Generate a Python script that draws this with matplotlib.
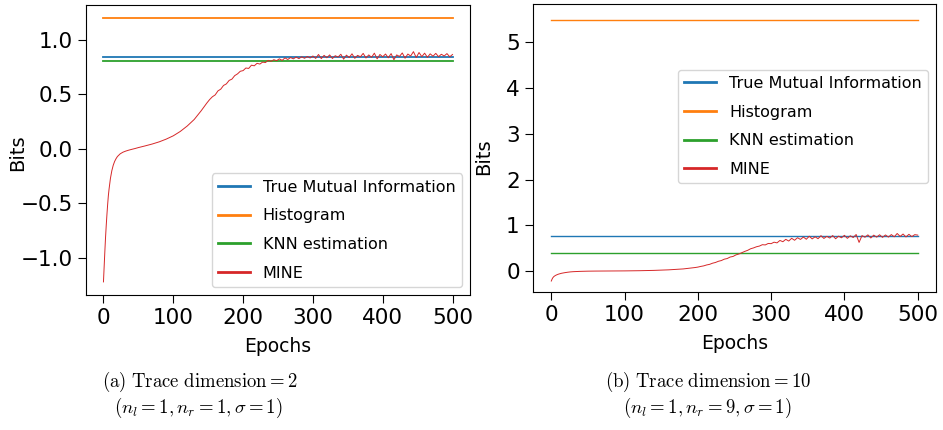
import numpy as np
import matplotlib
matplotlib.use('Agg')
import matplotlib.pyplot as plt

plt.rcParams['mathtext.fontset'] = 'cm'

labels = ['True Mutual Information', 'Histogram', 'KNN estimation', 'MINE']

# (a) trace dimension 2
true_mi_a = 0.847
hist_a = 1.205
knn_a = 0.81
epochs_a = [0, 1, 2, 3, 4, 5, 6, 7, 8, 10, 12, 14, 16, 18, 20, 24, 28, 32, 36, 40,
            45, 50, 60, 70, 80, 90, 100, 110, 120, 130, 140, 148] + list(range(152, 501, 4))
mine_a = [-1.22, -1.08, -0.94, -0.81, -0.70, -0.60, -0.51, -0.43, -0.37, -0.27,
          -0.20, -0.15, -0.115, -0.09, -0.07, -0.045, -0.03, -0.02, -0.012, -0.005,
          0.003, 0.012, 0.028, 0.045, 0.065, 0.09, 0.12, 0.16, 0.21, 0.27,
          0.35, 0.42,
          0.452, 0.478, 0.495, 0.532, 0.548, 0.582, 0.596, 0.628, 0.640, 0.672,
          0.688, 0.712, 0.718, 0.742, 0.738, 0.768, 0.762, 0.785, 0.778, 0.796,
          0.792, 0.812, 0.803, 0.818, 0.809, 0.826, 0.812, 0.835, 0.820, 0.838,
          0.826, 0.842, 0.828, 0.845, 0.831, 0.848, 0.834, 0.852, 0.830, 0.866,
          0.828, 0.858, 0.836, 0.862, 0.829, 0.855, 0.842, 0.868, 0.823, 0.860,
          0.838, 0.872, 0.831, 0.858, 0.845, 0.876, 0.834, 0.862, 0.840, 0.878,
          0.826, 0.866, 0.845, 0.870, 0.836, 0.874, 0.818, 0.862, 0.848, 0.880,
          0.832, 0.870, 0.852, 0.892, 0.838, 0.884, 0.846, 0.878, 0.840, 0.872,
          0.850, 0.876, 0.846, 0.868, 0.852, 0.874, 0.845, 0.866]

# (b) trace dimension 10
true_mi_b = 0.77
hist_b = 5.48
knn_b = 0.40
epochs_b = [0, 1, 2, 3, 4, 6, 8, 10, 14, 18, 22, 26, 30, 40, 50, 60, 80, 100,
            120, 140, 160, 180, 196] + list(range(200, 501, 4))
mine_b = [-0.22, -0.18, -0.15, -0.13, -0.115, -0.095, -0.08, -0.068, -0.05, -0.038,
          -0.028, -0.02, -0.015, -0.008, -0.004, -0.002, 0.000, 0.002, 0.006, 0.013,
          0.025, 0.045, 0.075,
          0.085, 0.100, 0.112, 0.132, 0.145, 0.170, 0.186, 0.212, 0.228, 0.258,
          0.272, 0.305, 0.318, 0.352, 0.372, 0.400, 0.428, 0.452, 0.486, 0.505,
          0.530, 0.545, 0.575, 0.570, 0.602, 0.598, 0.630, 0.615, 0.668, 0.640,
          0.692, 0.655, 0.715, 0.672, 0.728, 0.690, 0.742, 0.694, 0.760, 0.702,
          0.748, 0.706, 0.772, 0.712, 0.758, 0.720, 0.775, 0.705, 0.762, 0.726,
          0.780, 0.714, 0.770, 0.732, 0.798, 0.625, 0.775, 0.738, 0.790, 0.722,
          0.784, 0.740, 0.792, 0.735, 0.788, 0.742, 0.796, 0.748, 0.820, 0.756,
          0.808, 0.745, 0.802, 0.752, 0.795, 0.785]

fig = plt.figure(figsize=(9.43, 4.3), dpi=100)
ax1 = fig.add_axes([0.0912, 0.314, 0.4072, 0.6744])
ax2 = fig.add_axes([0.5652, 0.3209, 0.4274, 0.6698])


def draw(ax, epochs, mine, true_mi, hist, knn, lw):
    x0, x1 = epochs[0], epochs[-1]
    ax.plot([x0, x1], [true_mi, true_mi], color='tab:blue', lw=lw, label=labels[0])
    ax.plot([x0, x1], [hist, hist], color='tab:orange', lw=lw, label=labels[1])
    ax.plot([x0, x1], [knn, knn], color='tab:green', lw=lw, label=labels[2])
    ax.plot(epochs, mine, color='tab:red', lw=0.7, label=labels[3])
    ax.set_xlabel('Epochs', fontsize=13.5, labelpad=6)
    ax.set_ylabel('Bits', fontsize=14)
    ax.tick_params(labelsize=15.5, length=5.5, pad=4)
    ax.set_xticks([0, 100, 200, 300, 400, 500])


draw(ax1, epochs_a, mine_a, true_mi_a, hist_a, knn_a, 1.3)
ax1.set_ylim(-1.34, 1.32)
ax1.set_yticks([-1.0, -0.5, 0.0, 0.5, 1.0])
ax1.yaxis.set_label_coords(-0.154, 0.49)
leg1 = ax1.legend(loc='lower right', fontsize=11.5, labelspacing=0.85)

draw(ax2, epochs_b, mine_b, true_mi_b, hist_b, knn_b, 1.0)
ax2.set_ylim(-0.46, 5.84)
ax2.set_yticks([0, 1, 2, 3, 4, 5])
ax2.yaxis.set_label_coords(-0.099, 0.47)
leg2 = ax2.legend(loc='upper right', bbox_to_anchor=(1.0, 0.80), fontsize=11.5,
                  labelspacing=0.85)

for leg in (leg1, leg2):
    for h in leg.get_lines():
        h.set_linewidth(2.0)

fig.text(200 / 943, 1 - 382 / 430, r'$\mathrm{(a)\ Trace\ dimension} = 2$',
         ha='center', va='center', fontsize=13.5)
fig.text(198 / 943, 1 - 408 / 430, r'$(n_l = 1, n_r = 1, \sigma = 1)$',
         ha='center', va='center', fontsize=13.5)
fig.text(708 / 943, 1 - 382 / 430, r'$\mathrm{(b)\ Trace\ dimension} = 10$',
         ha='center', va='center', fontsize=13.5)
fig.text(707 / 943, 1 - 408 / 430, r'$(n_l = 1, n_r = 9, \sigma = 1)$',
         ha='center', va='center', fontsize=13.5)

fig.savefig('out.png', dpi=100)
